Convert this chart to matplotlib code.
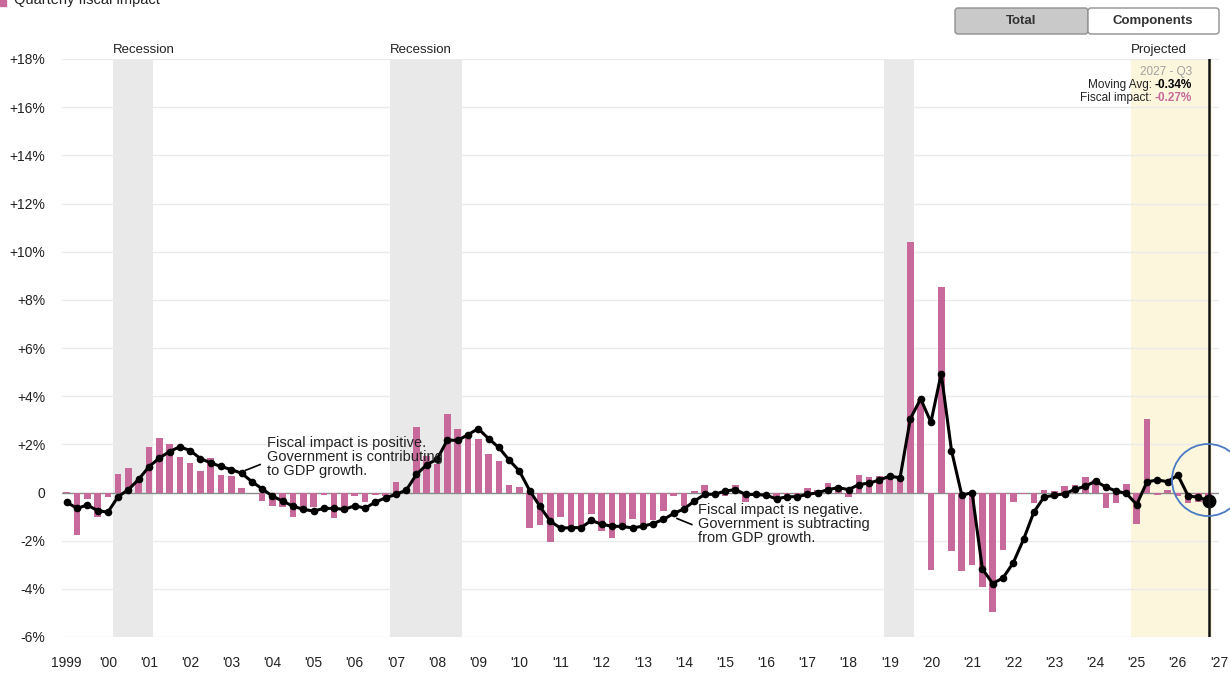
import matplotlib
matplotlib.use('Agg')
import matplotlib.pyplot as plt
from matplotlib.patches import Rectangle, FancyBboxPatch, Circle
from matplotlib.offsetbox import TextArea, HPacker, AnnotationBbox
from matplotlib.transforms import IdentityTransform

plt.rcParams['font.family'] = ['Liberation Sans', 'DejaVu Sans']

# quarterly values, first point sits on the "1999" tick
fiscal_impact = [
    0.03, -1.75, -0.25, -1.0, -0.2, 0.77, 1.0, 0.5,
    1.88, 2.27, 2.0, 1.47, 1.24, 0.89, 1.44, 0.73,
    0.7, 0.17, -0.02, -0.36, -0.55, -0.6, -1.02, -0.7,
    -0.6, -0.1, -1.05, -0.8, -0.15, -0.4, -0.1, -0.15,
    0.43, 0.05, 2.72, 1.5, 1.2, 3.24, 2.64, 2.34,
    2.22, 1.58, 1.3, 0.3, 0.22, -1.49, -1.35, -2.06,
    -1.0, -1.42, -1.42, -0.91, -1.6, -1.88, -1.35, -1.1,
    -1.3, -1.13, -0.75, -0.16, -0.55, 0.05, 0.32, -0.1,
    -0.15, 0.31, -0.38, -0.13, -0.1, -0.3, -0.12, -0.2,
    0.2, 0.1, 0.4, 0.23, -0.18, 0.74, 0.66, 0.69,
    0.7, 0.62, 10.39, 3.9, -3.2, 8.53, -2.43, -3.26,
    -2.99, -3.91, -4.97, -2.39, -0.38, -0.08, -0.43, 0.12,
    0.06, 0.25, 0.32, 0.65, 0.5, -0.64, -0.42, 0.35,
    -1.29, 3.05, -0.1, 0.09, -0.15, -0.43, -0.39, -0.27,
]
moving_avg = [
    -0.4, -0.66, -0.52, -0.75, -0.82, -0.17, 0.12, 0.55,
    1.07, 1.43, 1.7, 1.9, 1.74, 1.41, 1.23, 1.08,
    0.95, 0.8, 0.45, 0.15, -0.15, -0.36, -0.57, -0.7,
    -0.77, -0.66, -0.66, -0.7, -0.55, -0.65, -0.4, -0.22,
    -0.08, 0.1, 0.75, 1.16, 1.38, 2.18, 2.16, 2.4,
    2.65, 2.24, 1.87, 1.35, 0.89, 0.08, -0.58, -1.19,
    -1.48, -1.46, -1.46, -1.16, -1.32, -1.4, -1.41, -1.47,
    -1.4, -1.29, -1.12, -0.87, -0.68, -0.36, -0.08, -0.07,
    0.06, 0.12, -0.08, -0.08, -0.12, -0.26, -0.18, -0.17,
    -0.08, -0.01, 0.12, 0.2, 0.12, 0.33, 0.39, 0.52,
    0.68, 0.61, 3.06, 3.89, 2.92, 4.94, 1.74, -0.11,
    -0.01, -3.17, -3.78, -3.55, -2.92, -1.95, -0.82, -0.18,
    -0.12, -0.05, 0.13, 0.26, 0.47, 0.23, 0.06, -0.04,
    -0.5, 0.44, 0.52, 0.45, 0.72, -0.14, -0.2, -0.34,
]
year_labels = ['1999'] + ["'%02d" % y for y in range(0, 28)]
recessions = [(1.125, 2.1), (7.85, 9.6), (19.86, 20.59)]
recession_labels = ['Recession', 'Recession', '']
projected = (25.86, 27.83)
last_label = '2027 - Q3'

x = [i * 0.25 for i in range(len(fiscal_impact))]

W, H = 1230, 674
PINK = '#c8699b'
fig = plt.figure(figsize=(W / 100, H / 100), dpi=100)
ax = fig.add_axes([62 / W, 1 - 637 / H, (1219 - 62) / W, (637 - 59) / H])
ax.set_xlim(-0.114, 28.0)
ax.set_ylim(-6, 18)

for (a, b), lab in zip(recessions, recession_labels):
    ax.axvspan(a, b, color='#e9e9e9', lw=0, zorder=0)
    if lab:
        ax.text(a, 18.38, lab, fontsize=9.5, color='#222', va='center', ha='left')
ax.axvspan(projected[0], projected[1], color='#fcf6dd', lw=0, zorder=0)
ax.text(projected[0], 18.38, 'Projected', fontsize=9.5, color='#222', va='center', ha='left')

for y in range(-6, 20, 2):
    if y != 0:
        ax.axhline(y, color='#ebebeb', lw=1, zorder=0.5)
ax.axhline(0, color='#8a8a8a', lw=1, zorder=1.5)

ax.bar(x, fiscal_impact, width=0.16, color=PINK, zorder=2)
ax.plot(x, moving_avg, color='black', lw=2.2, marker='o', ms=4.5, zorder=3)
ax.plot(x[-1], moving_avg[-1], 'o', color='black', ms=9, zorder=4)
ax.axvline(x[-1], color='#111111', lw=1.8, zorder=4)

for s in ax.spines.values():
    s.set_visible(False)
yt = list(range(-6, 20, 2))
ax.set_yticks(yt)
ax.set_yticklabels(['0' if v == 0 else ('+%d%%' % v if v > 0 else '-%d%%' % -v) for v in yt])
ax.set_xticks(range(len(year_labels)))
ax.set_xticklabels(year_labels)
ax.tick_params(axis='y', length=0, pad=12, labelsize=10, labelcolor='#222')
ax.tick_params(axis='x', length=0, pad=14, labelsize=10, labelcolor='#222')

# annotations
ax.text(4.87, 1.49, 'Fiscal impact is positive.\nGovernment is contributing\nto GDP growth.',
        fontsize=10.5, color='#222', va='center', ha='left', linespacing=1.0, zorder=5)
ax.plot([4.35, 4.70], [0.925, 1.16], color='black', lw=1.2, zorder=5)
ax.text(15.34, -1.29, 'Fiscal impact is negative.\nGovernment is subtracting\nfrom GDP growth.',
        fontsize=10.5, color='#222', va='center', ha='left', linespacing=1.0, zorder=5)
ax.plot([14.83, 15.19], [-1.08, -1.33], color='black', lw=1.2, zorder=5)

# tooltip
fig.text(1192 / W, 1 - 72 / H, last_label, fontsize=8.5, color='#a0a0a0', ha='right', va='center')
rows = [('Moving Avg: ', '%.2f%%' % moving_avg[-1], 'black', 85),
        ('Fiscal impact: ', '%.2f%%' % fiscal_impact[-1], PINK, 98)]
for lab, val, col, py in rows:
    box = HPacker(children=[TextArea(lab, textprops=dict(fontsize=8.5, color='#222')),
                            TextArea(val, textprops=dict(fontsize=8.5, color=col, fontweight='bold'))],
                  sep=0, pad=0, align='baseline')
    ab = AnnotationBbox(box, (1192, H - py), xycoords='figure pixels', box_alignment=(1, 0.5),
                        frameon=False, pad=0)
    fig.add_artist(ab)

# buttons
fig.add_artist(FancyBboxPatch((955, H - 34), 133, 26, boxstyle='round,pad=0,rounding_size=3',
                              transform=IdentityTransform(), facecolor='#c9c9c9', edgecolor='#8f8f8f', lw=1))
fig.add_artist(FancyBboxPatch((1088, H - 34), 131, 26, boxstyle='round,pad=0,rounding_size=3',
                              transform=IdentityTransform(), facecolor='white', edgecolor='#8f8f8f', lw=1))
fig.text(1021 / W, 1 - 21 / H, 'Total', fontsize=9.5, fontweight='bold', color='#333', ha='center', va='center')
fig.text(1153 / W, 1 - 21 / H, 'Components', fontsize=9.5, fontweight='bold', color='#333', ha='center', va='center')

# cut-off legend at the top
fig.add_artist(Rectangle((0, H - 6), 6, 6, transform=IdentityTransform(), color=PINK))
fig.text(14 / W, 1 - 4 / H, 'Quarterly fiscal impact', fontsize=10.5, color='#222', va='baseline', ha='left')

# highlight circle
fig.add_artist(Circle((1208, H - 480), 36, transform=IdentityTransform(), fill=False,
                      edgecolor='#4a7cc4', lw=1.3))

fig.savefig('out.png', dpi=100)
